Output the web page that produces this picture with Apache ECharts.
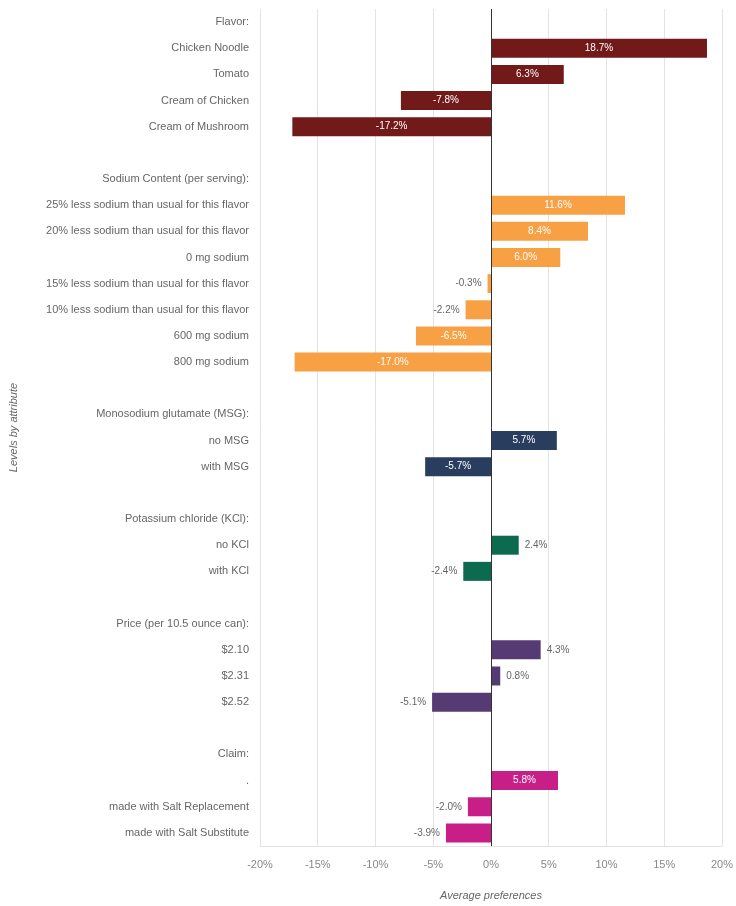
<!DOCTYPE html>
<html><head><meta charset="utf-8">
<script src="https://cdn.jsdelivr.net/npm/echarts@6/dist/echarts.min.js"></script>
<style>html,body{margin:0;padding:0;background:#fff}#c{width:736px;height:906px}</style>
</head><body><div id="c"></div>
<script>
var categories = ['Flavor:', 'Chicken Noodle', 'Tomato', 'Cream of Chicken', 'Cream of Mushroom', '',
  'Sodium Content (per serving):', '25% less sodium than usual for this flavor', '20% less sodium than usual for this flavor',
  '0 mg sodium', '15% less sodium than usual for this flavor', '10% less sodium than usual for this flavor',
  '600 mg sodium', '800 mg sodium', '',
  'Monosodium glutamate (MSG):', 'no MSG', 'with MSG', '',
  'Potassium chloride (KCl):', 'no KCl', 'with KCl', '',
  'Price (per 10.5 ounce can):', '$2.10', '$2.31', '$2.52', '',
  'Claim:', '.', 'made with Salt Replacement', 'made with Salt Substitute'];
var values = [null, 18.7, 6.3, -7.8, -17.2, null,
  null, 11.6, 8.4, 6.0, -0.3, -2.2, -6.5, -17.0, null,
  null, 5.7, -5.7, null,
  null, 2.4, -2.4, null,
  null, 4.3, 0.8, -5.1, null,
  null, 5.8, -2.0, -3.9];
var groups = [0,0,0,0,0,0, 1,1,1,1,1,1,1,1,1, 2,2,2,2, 3,3,3,3, 4,4,4,4,4, 5,5,5,5];
var groupColors = ['#721919', '#F8A044', '#293E5E', '#0C6B4E', '#553A73', '#C71E88'];
var xTicks = [-20, -15, -10, -5, 0, 5, 10, 15, 20];

var data = values.map(function (v, i) {
  if (v === null) return null;
  var big = Math.abs(v) >= 5.5;
  return {
    value: v,
    itemStyle: { color: groupColors[groups[i]] },
    label: big ? { position: 'inside', color: '#ffffff' }
               : { position: v < 0 ? 'left' : 'right', color: '#666666', distance: 6 }
  };
});

var chart = echarts.init(document.getElementById('c'), null, { renderer: 'canvas' });
chart.setOption({
  animation: false,
  textStyle: { fontFamily: 'Liberation Sans, Arial, sans-serif' },
  grid: { left: 257, right: 14, top: 9, bottom: 55, containLabel: false },
  xAxis: {
    type: 'value', min: xTicks[0], max: xTicks[xTicks.length - 1], interval: 5,
    axisLine: { show: true, lineStyle: { color: '#e3e3e3' } },
    axisTick: { show: false },
    splitLine: { show: true, lineStyle: { color: '#e3e3e3' } },
    axisLabel: { color: '#888888', fontSize: 11, margin: 13, formatter: function (v) { return v + '%'; } },
    name: 'Average preferences', nameLocation: 'middle', nameGap: 44,
    nameTextStyle: { color: '#666666', fontSize: 11, fontStyle: 'italic' }
  },
  yAxis: {
    type: 'category', data: categories, inverse: true,
    axisLine: { show: false }, axisTick: { show: false },
    axisLabel: { color: '#666666', fontSize: 11, margin: 11 },
    name: 'Levels by attribute', nameLocation: 'middle', nameGap: 241, nameRotate: 90,
    nameTextStyle: { color: '#666666', fontSize: 11, fontStyle: 'italic' }
  },
  series: [{
    type: 'bar', data: data, barWidth: 19,
    label: { show: true, fontSize: 10, formatter: function (p) { return p.value.toFixed(1) + '%'; } },
    markLine: {
      silent: true, symbol: 'none', label: { show: false },
      lineStyle: { color: '#333333', type: 'solid', width: 1 },
      data: [{ xAxis: 0 }]
    }
  }]
});
</script></body></html>
